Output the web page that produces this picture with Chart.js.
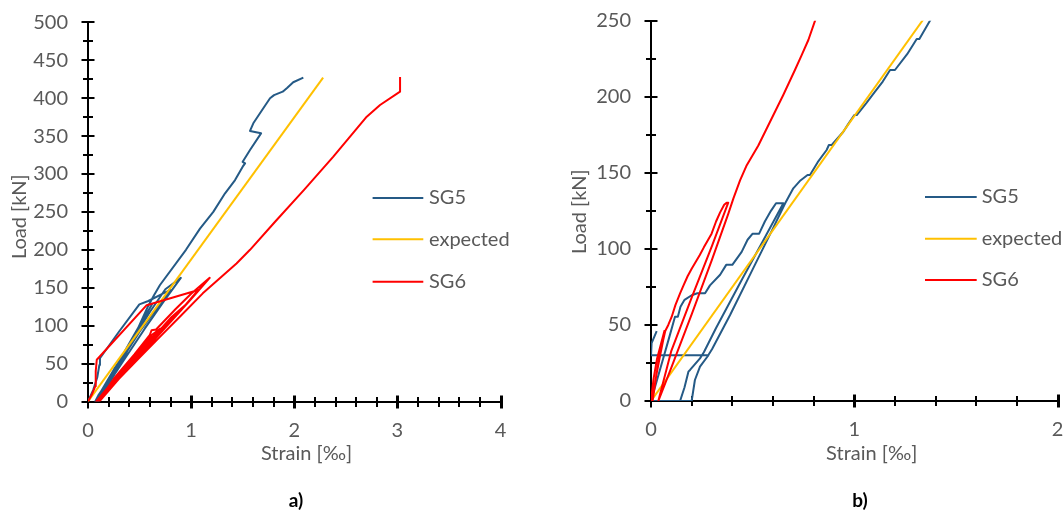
<!DOCTYPE html>
<html>
<head>
<meta charset="utf-8">
<script src="https://cdn.jsdelivr.net/npm/chart.js@4.4.0/dist/chart.umd.min.js"></script>
<style>
  html, body { margin: 0; padding: 0; background: #fff; }
  #wrap { position: relative; width: 1064px; height: 513px; overflow: hidden; }
  .panel { position: absolute; top: 0; width: 532px; height: 513px; }
  .cap { position: absolute; top: 489px; font: bold 19px Lato, sans-serif; color: #000; transform: translateX(-50%); line-height: 22px; }
</style>
</head>
<body>
<div id="wrap">
  <div class="panel" style="left:0"><canvas id="chartA"></canvas></div>
  <div class="panel" style="left:532px"><canvas id="chartB"></canvas></div>
  <div class="cap" style="left:296px">a)</div>
  <div class="cap" style="left:860px">b)</div>
</div>
<script>
// Axis ranges and tick spacing
const strainMaxA = 4, loadMaxA = 500;
const strainMaxB = 2, loadMaxB = 250;
const strainStep = 1, strainMinor = 0.2;
const loadStep = 50, loadMinor = 25;

// Series names and colours
const seriesNames = ['SG5', 'expected', 'SG6'];
const seriesColors = ['#255A86', '#FFC000', '#FF0000'];

// Panel a) — [strain ‰, load kN]
const sg5A = [
  [0,0],[0.05,15],[0.09,32],[0.11,48],[0.116,57],[0.3,92],[0.498,128],[0.585,132.5],[0.73,142.6],[0.8,147],
  [0.65,120],[0.5,92],[0.35,60],[0.2,28],[0.1,8],[0.07,0],
  [0.15,18],[0.25,40],[0.32,58],[0.38,70],[0.25,42],[0.12,12],[0.08,0],
  [0.18,25],[0.3,52],[0.45,85],[0.6,118],[0.75,148],[0.9,163],
  [0.75,135],[0.55,96],[0.35,55],[0.18,20],[0.1,0],
  [0.2,25],[0.35,62],[0.5,100],[0.62,128],[0.52,105],[0.38,72],[0.22,32],[0.12,5],[0.1,0],
  [0.2,22],[0.35,58],[0.48,95],[0.58,125],[0.64,140],[0.698,153.6],[0.95,200],[1.086,228],
  [1.215,250],[1.329,274.5],[1.426,292],[1.5,309.6],[1.523,314],[1.5,316],[1.571,331.6],
  [1.678,353.6],[1.571,356.7],[1.603,366.8],[1.7,386.6],[1.765,399.8],[1.804,404],
  [1.888,408.5],[1.933,413.8],[1.99,421],[2.088,427]
];
const expectedLine = [[0,0],[2.28,427]];
const sg6A = [
  [0,0],[0.04,10],[0.07,20],[0.075,40],[0.085,55],[0.569,127],[1.07,147],
  [0.9,120],[0.7,90],[0.5,60],[0.3,30],[0.12,5],[0.08,0],
  [0.25,28],[0.45,58],[0.62,88],[0.7,96],[0.5,66],[0.3,34],[0.12,6],[0.1,0],
  [0.25,30],[0.45,62],[0.6,88],[0.617,94],[0.66,95],[0.85,122],[1.0,142],[1.18,163],
  [1.0,135],[0.8,105],[0.55,68],[0.3,32],[0.12,4],[0.09,0],
  [0.3,34],[0.55,72],[0.8,110],[0.95,128],[0.7,92],[0.45,55],[0.2,18],[0.11,0],
  [0.3,30],[0.5,58],[0.7,85.5],[0.9,113],[1.113,142.6],[1.3,165],[1.44,182],[1.571,200],
  [1.814,237],[2.095,279],[2.379,322.8],[2.703,375.5],[2.832,391],[3.026,408.5],[3.026,428]
];

// Panel b) — [strain ‰, load kN]
const sg5B = [
  [0.028,46],[0.003,38],[0,30],[0.282,30],[0.277,29.1],[0.241,22.6],[0.216,13.8],[0.2,0],[0,0],
  [0.03,14],[0.06,28],[0.09,42],[0.118,55.4],[0.132,55.4],[0.145,62],[0.165,66.5],[0.2,69.5],
  [0.228,70.8],[0.266,70.8],[0.29,76],[0.34,83],[0.37,89.5],[0.4,89.5],[0.446,98],[0.475,106],
  [0.5,110],[0.532,110],[0.56,118],[0.59,125],[0.615,130],[0.651,130],
  [0.55,105],[0.45,80.5],[0.389,65.3],[0.32,48],[0.26,32],[0.241,28],[0.192,20.4],[0.184,19.3],
  [0.165,9],[0.143,0],[0.2,0],
  [0.208,7],[0.216,13.8],[0.241,22.6],[0.277,29.1],[0.3,34],[0.389,56.5],[0.5,86.5],[0.6,113.5],
  [0.66,130],[0.7,139.8],[0.735,145],[0.77,148.6],[0.782,148.6],[0.82,157],[0.864,165],
  [0.875,168.3],[0.889,168.3],[0.946,177],[0.97,182],[1.0,188],[1.012,188],[1.06,196],[1.1,203],
  [1.14,210],[1.176,217.6],[1.2,217.6],[1.26,228],[1.307,238],[1.32,238],[1.372,250],[1.43,262]
];
const sg6B = [
  [0,0],[0.012,14],[0.03,28],[0.05,38],[0.062,44],[0.066,46],[0.05,36],[0.03,20],[0.012,5],[0.008,0],
  [0.025,16],[0.045,30],[0.06,40],[0.07,46],[0.085,50],[0.102,55.4],[0.12,63],[0.143,70.8],
  [0.16,76],[0.18,82],[0.2,87],[0.216,90.5],[0.24,96],[0.26,101],[0.298,110],[0.32,118],
  [0.34,124],[0.36,129],[0.372,130.4],[0.38,130.4],
  [0.3,102],[0.2,68],[0.1,33],[0.036,0],
  [0.1,22],[0.2,57],[0.3,93],[0.38,123],[0.405,133],[0.438,145],[0.471,155],[0.528,168],
  [0.565,178],[0.602,188],[0.65,201],[0.708,217.6],[0.74,227],[0.774,237.3],[0.807,250],[0.83,259]
];

const labelFont = 'Lato, sans-serif';
const labelSize = 20;
Chart.defaults.font.family = labelFont;

// Crossing tick marks, axis titles and the legend
const decorPlugin = {
  id: 'decor',
  beforeDatasetsDraw(chart, args, o) {
    const { ctx, chartArea: a, scales: { x, y } } = chart;
    ctx.save();
    ctx.strokeStyle = '#000';
    ctx.lineCap = 'butt';
    const ny = Math.round(y.max / loadMinor);
    for (let i = 0; i <= ny; i++) {
      const v = i * loadMinor;
      const major = Math.abs(v / loadStep - Math.round(v / loadStep)) < 1e-6;
      const py = Math.round(y.getPixelForValue(v));
      const len = major ? 6.5 : 5;
      ctx.lineWidth = 2;
      ctx.beginPath();
      ctx.moveTo(a.left - len, py);
      ctx.lineTo(a.left + len, py);
      ctx.stroke();
    }
    const nx = Math.round(x.max / strainMinor);
    const by = Math.round(a.bottom);
    for (let i = 0; i <= nx; i++) {
      const v = i * strainMinor;
      const major = Math.abs(v / strainStep - Math.round(v / strainStep)) < 1e-6;
      let px = Math.round(x.getPixelForValue(v));
      const len = major ? 6.5 : 5;
      ctx.lineWidth = major && i > 0 ? 3 : 2;
      if (ctx.lineWidth === 3) px += 0.5;
      ctx.beginPath();
      ctx.moveTo(px, by - len);
      ctx.lineTo(px, by + len);
      ctx.stroke();
    }
    ctx.restore();
  },
  afterDraw(chart, args, o) {
    const { ctx } = chart;
    ctx.save();
    ctx.fillStyle = '#595959';
    ctx.font = labelSize + 'px ' + labelFont;
    ctx.textAlign = 'center';
    ctx.textBaseline = 'middle';
    ctx.fillText(o.xTitle, o.xTitlePos[0], o.xTitlePos[1]);
    ctx.save();
    ctx.translate(o.yTitlePos[0], o.yTitlePos[1]);
    ctx.rotate(-Math.PI / 2);
    ctx.fillText(o.yTitle, 0, 0);
    ctx.restore();
    ctx.textAlign = 'left';
    chart.data.datasets.forEach((ds, i) => {
      const ry = o.legendRows[i];
      ctx.strokeStyle = ds.borderColor;
      ctx.lineWidth = 2;
      ctx.beginPath();
      ctx.moveTo(o.legendX, ry);
      ctx.lineTo(o.legendX + o.legendLen, ry);
      ctx.stroke();
      ctx.fillStyle = '#595959';
      ctx.fillText(ds.label, o.legendText, ry);
    });
    ctx.restore();
  }
};

// Keep the plot area fixed: no extra room reserved for overhanging tick labels
function clearPadding(s) {
  s.paddingTop = 0; s.paddingBottom = 0; s.paddingLeft = 0; s.paddingRight = 0;
}

function makeChart(id, sets, xMax, yMax, decor) {
  const datasets = sets.map((pts, i) => ({
    label: seriesNames[i],
    data: pts.map(p => ({ x: p[0], y: p[1] })),
    showLine: true,
    borderColor: seriesColors[i],
    backgroundColor: seriesColors[i],
    borderWidth: 2,
    pointRadius: 0,
    pointHoverRadius: 0,
    tension: 0,
    borderJoinStyle: 'round',
    order: 2 - i
  }));
  return new Chart(document.getElementById(id), {
    type: 'scatter',
    data: { datasets },
    options: {
      responsive: true,
      maintainAspectRatio: false,
      animation: false,
      devicePixelRatio: 1,
      events: [],
      layout: { padding: decor.padding },
      plugins: { legend: { display: false }, tooltip: { enabled: false }, decor },
      scales: {
        x: {
          type: 'linear', position: 'bottom', min: 0, max: xMax,
          ticks: { stepSize: strainStep, padding: 17, color: '#595959', font: { size: labelSize }, maxRotation: 0 },
          grid: { display: true, drawOnChartArea: false, drawTicks: false },
          border: { display: true, color: '#000', width: 2 },
          afterFit: s => { s.height = decor.xAxisHeight; clearPadding(s); }
        },
        y: {
          type: 'linear', position: 'left', min: 0, max: yMax,
          ticks: { stepSize: loadStep, padding: 20, color: '#595959', font: { size: labelSize } },
          grid: { display: true, drawOnChartArea: false, drawTicks: false },
          border: { display: true, color: '#000', width: 2 },
          afterFit: s => { s.width = decor.yAxisWidth; clearPadding(s); }
        }
      }
    },
    plugins: [decorPlugin]
  });
}

makeChart('chartA', [sg5A, expectedLine, sg6A], strainMaxA, loadMaxA, {
  padding: { left: 0, top: 22.3, right: 31.5, bottom: 51.5 },
  yAxisWidth: 88, xAxisHeight: 60,
  xTitle: 'Strain [‰]', xTitlePos: [306.5, 454],
  yTitle: 'Load [kN]', yTitlePos: [19.6, 216.7],
  legendX: 372.6, legendLen: 50.7, legendText: 429, legendRows: [198, 239.3, 281.7]
});

makeChart('chartB', [sg5B, expectedLine, sg6B], strainMaxB, loadMaxB, {
  padding: { left: 0, top: 20.7, right: 6.4, bottom: 52 },
  yAxisWidth: 119, xAxisHeight: 60,
  xTitle: 'Strain [‰]', xTitlePos: [339.7, 453.5],
  yTitle: 'Load [kN]', yTitlePos: [48, 211.7],
  legendX: 393, legendLen: 51.7, legendText: 449.7, legendRows: [197, 238.7, 280]
});
</script>
</body>
</html>
